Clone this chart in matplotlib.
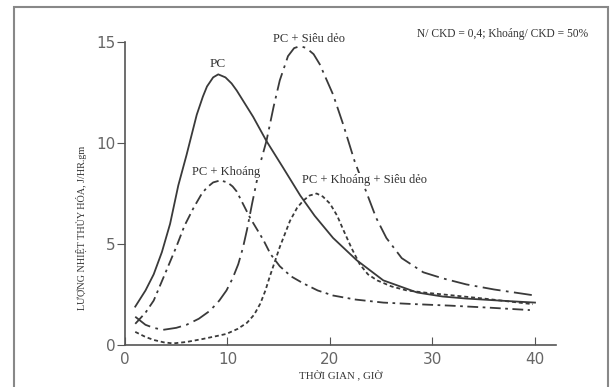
import matplotlib.pyplot as plt
from matplotlib.patches import Rectangle

# thời gian (giờ) và lượng nhiệt thủy hóa
pc_x = [1.0, 2.0, 2.8, 3.6, 4.4, 5.2, 6.0, 7.0, 7.6, 8.0, 8.6, 9.1, 9.8, 10.4, 10.9,
        12.5, 13.8, 15.4, 17.1, 18.5, 20.3, 22.6, 25.2, 28.5, 31.0, 33.3, 36.5, 40.0]
pc_y = [1.9, 2.7, 3.5, 4.6, 6.0, 7.9, 9.4, 11.4, 12.3, 12.8, 13.25, 13.4, 13.25, 12.95,
        12.6, 11.3, 10.1, 8.8, 7.4, 6.4, 5.3, 4.2, 3.2, 2.6, 2.4, 2.3, 2.2, 2.1]

sd_x = [1.0, 2.0, 2.8, 3.7, 5.0, 6.0, 7.2, 8.3, 9.2, 9.9, 10.5, 11.05, 11.5, 11.9,
        12.4, 12.85, 13.2, 13.8, 14.5, 15.1, 15.9, 16.5, 17.1, 17.7, 18.4, 19.0, 20.3,
        21.3, 22.4, 23.6, 24.5, 25.5, 27.0, 29.1, 31.0, 33.3, 36.0, 40.0]
sd_y = [1.4, 1.0, 0.85, 0.75, 0.85, 1.0, 1.3, 1.7, 2.2, 2.7, 3.3, 4.0, 4.8, 5.7,
        7.0, 8.1, 9.0, 10.1, 11.8, 13.1, 14.3, 14.7, 14.8, 14.7, 14.4, 13.9, 12.4,
        10.9, 9.1, 7.5, 6.3, 5.3, 4.3, 3.6, 3.3, 3.0, 2.75, 2.45]

kh_x = [1.0, 2.0, 2.8, 3.8, 5.0, 5.8, 6.7, 7.5, 8.0, 8.6, 9.3, 10.0, 10.5, 10.9, 11.5,
        12.2, 13.5, 14.2, 15.1, 16.2, 17.4, 18.8, 20.3, 22.5, 25.2, 28.0, 31.7,
        35.5, 39.5]
kh_y = [1.05, 1.6, 2.2, 3.4, 4.85, 5.9, 6.8, 7.5, 7.8, 8.05, 8.15, 8.05, 7.85, 7.6, 7.0,
        6.3, 5.2, 4.5, 3.9, 3.4, 3.05, 2.7, 2.45, 2.25, 2.1, 2.03, 1.95,
        1.85, 1.73]

khsd_x = [1.0, 2.0, 2.8, 3.8, 4.7, 6.0, 7.6, 9.0, 9.9, 11.0, 11.9, 12.6, 13.2, 13.7,
          14.1, 14.6, 15.1, 15.6, 16.1, 16.8, 17.4, 18.0, 18.7, 19.3, 20.0, 20.7,
          21.3, 22.1, 22.9, 23.7, 24.6, 26.0, 27.5, 29.5, 31.7, 35.0, 39.8]
khsd_y = [0.65, 0.4, 0.25, 0.13, 0.08, 0.15, 0.3, 0.45, 0.55, 0.8, 1.1, 1.5, 2.05, 2.7,
          3.35, 4.1, 4.85, 5.5, 6.15, 6.8, 7.15, 7.4, 7.5, 7.35, 7.0, 6.4,
          5.7, 4.8, 4.0, 3.5, 3.2, 2.9, 2.7, 2.58, 2.47, 2.3, 2.02]

x_ticks = [0, 10, 20, 30, 40]
y_ticks = [0, 5, 10, 15]

ink = '#3a3a3a'
serif = ['Liberation Serif', 'DejaVu Serif']

fig = plt.figure(figsize=(6.13, 3.87), dpi=100)
ax = fig.add_axes([0.2039, 0.1085, 0.7023, 0.7855])

ax.plot(pc_x, pc_y, color=ink, lw=1.3, ls='-')
ax.plot(sd_x, sd_y, color=ink, lw=1.3, ls=(0, (10, 3, 1.5, 3)))
ax.plot(kh_x, kh_y, color=ink, lw=1.3, ls=(0, (6, 2.5, 1.5, 2.5)))
ax.plot(khsd_x, khsd_y, color=ink, lw=1.3, ls=(0, (2.2, 1.6)))

ax.set_xlim(0, 42)
ax.set_ylim(0, 15.05)
ax.set_xticks(x_ticks)
ax.set_yticks(y_ticks)
for s in ['top', 'right']:
    ax.spines[s].set_visible(False)
for s in ['left', 'bottom']:
    ax.spines[s].set_color('#555555')
    ax.spines[s].set_linewidth(1.2)
ax.spines['left'].set_bounds(0, 15)
ax.tick_params(axis='x', direction='in', length=6, colors='#555555', labelsize=11, pad=5)
ax.tick_params(axis='y', direction='out', length=6, colors='#555555', labelsize=11, pad=1)
for lab in ax.get_xticklabels() + ax.get_yticklabels():
    lab.set_color('#666666')

ax.set_xlabel('THỜI GIAN , GIỜ', fontsize=7.8, family=serif, color='#333333', labelpad=2)
ax.set_ylabel('LƯỢNG NHIỆT THỦY HÓA, J/HR.gm', fontsize=7.3, family=serif, color='#333333')
ax.yaxis.set_label_coords(-0.088, 0.385)

box = dict(facecolor='white', edgecolor='none', pad=1)
ax.text(9.0, 13.9, 'PC', fontsize=9.5, family=serif, ha='center', va='center', color='#333333')
ax.text(18.0, 15.15, 'PC + Siêu dẻo', fontsize=9, family=serif, ha='center', va='center',
        color='#333333', bbox=box)
ax.text(9.9, 8.55, 'PC + Khoáng', fontsize=9, family=serif, ha='center', va='center',
        color='#333333', bbox=box)
ax.text(23.4, 8.15, 'PC + Khoáng + Siêu dẻo', fontsize=9, family=serif, ha='center',
        va='center', color='#333333', bbox=box)
fig.text(0.82, 0.912, 'N/ CKD = 0,4; Khoáng/ CKD = 50%', fontsize=8.3, family=serif,
         ha='center', va='center', color='#333333')

fig.patches.append(Rectangle((14 / 613, -0.01), 594 / 613, 1 - 7 / 387 + 0.01,
                             transform=fig.transFigure, fill=False,
                             edgecolor='#888888', lw=1.5))

fig.savefig('out.png', dpi=100)
